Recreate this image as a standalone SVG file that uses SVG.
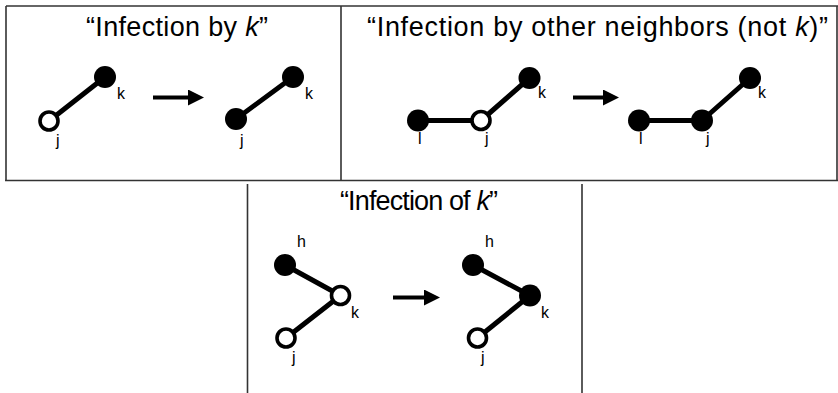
<svg xmlns="http://www.w3.org/2000/svg" width="838" height="393" viewBox="0 0 838 393">
<style>
.frame{stroke:#333;stroke-width:1.6;fill:none}
.edge{stroke:#000;stroke-width:5;stroke-linecap:round}
.on{fill:#000}
.off{fill:#fff;stroke:#000;stroke-width:3.6}
.lbl{font-family:"Liberation Sans",Arial,sans-serif;font-size:16px;fill:#000}
.title{font-family:"Liberation Sans",Arial,sans-serif;font-size:27px;fill:#000}
.arrow{stroke:#000;stroke-width:4}
</style>
<defs>
<marker id="ah" markerWidth="4" markerHeight="4" refX="0" refY="2" orient="auto" markerUnits="strokeWidth" viewBox="0 0 4 4"><path d="M0,0 L4,2 L0,4 Z" fill="#000"/></marker>
</defs>
<rect width="838" height="393" fill="#fff"/>
<g id="frames">
<line class="frame" x1="6" y1="6" x2="838" y2="6"/>
<line class="frame" x1="6" y1="6" x2="6" y2="180.5"/>
<line class="frame" x1="341" y1="6" x2="341" y2="180.5"/>
<line class="frame" x1="837" y1="6" x2="837" y2="180.5"/>
<line class="frame" x1="5" y1="180.5" x2="838" y2="180.5"/>
<line class="frame" x1="247.5" y1="184" x2="247.5" y2="393"/>
<line class="frame" x1="582" y1="184" x2="582" y2="393"/>
</g>
<g id="titles">
<text class="title" x="86" y="36" textLength="182" lengthAdjust="spacing">“Infection by <tspan font-style="italic">k</tspan>”</text>
<text class="title" x="367" y="36" textLength="461" lengthAdjust="spacing">“Infection by other neighbors (not <tspan font-style="italic">k</tspan>)”</text>
<text class="title" x="340" y="210" textLength="158" lengthAdjust="spacing">“Infection of <tspan font-style="italic">k</tspan>”</text>
</g>
<g id="connectors">
<line class="edge" x1="49" y1="121" x2="105" y2="77"/>
<line class="edge" x1="236" y1="119" x2="293" y2="77"/>
<line class="edge" x1="418" y1="120.5" x2="481" y2="120.5"/>
<line class="edge" x1="481" y1="120.5" x2="529.5" y2="78"/>
<line class="edge" x1="639" y1="120.5" x2="702" y2="120.5"/>
<line class="edge" x1="702" y1="120.5" x2="750" y2="78"/>
<line class="edge" x1="285" y1="265" x2="340.5" y2="295.5"/>
<line class="edge" x1="286" y1="338" x2="340.5" y2="295.5"/>
<line class="edge" x1="473" y1="265" x2="530" y2="295.5"/>
<line class="edge" x1="477.5" y1="338" x2="530" y2="295.5"/>
<line class="arrow" x1="153" y1="97.5" x2="188" y2="97.5" marker-end="url(#ah)"/>
<line class="arrow" x1="573" y1="97.5" x2="603" y2="97.5" marker-end="url(#ah)"/>
<line class="arrow" x1="393" y1="297.5" x2="424" y2="297.5" marker-end="url(#ah)"/>
</g>
<g id="p1-left-j"><circle class="off" cx="49" cy="121" r="9"/><text class="lbl" x="56" y="146">j</text></g>
<g id="p1-left-k"><circle class="on" cx="105" cy="77" r="11"/><text class="lbl" x="117" y="99">k</text></g>
<g id="p1-right-j"><circle class="on" cx="236" cy="119" r="11"/><text class="lbl" x="240" y="146">j</text></g>
<g id="p1-right-k"><circle class="on" cx="293" cy="77" r="11"/><text class="lbl" x="305" y="99">k</text></g>
<g id="p2-left-l"><circle class="on" cx="418" cy="120.5" r="11"/><text class="lbl" x="418" y="144">l</text></g>
<g id="p2-left-j"><circle class="off" cx="481" cy="120.5" r="9"/><text class="lbl" x="485" y="144">j</text></g>
<g id="p2-left-k"><circle class="on" cx="529.5" cy="78" r="11"/><text class="lbl" x="538" y="98">k</text></g>
<g id="p2-right-l"><circle class="on" cx="639" cy="120.5" r="11"/><text class="lbl" x="639" y="144">l</text></g>
<g id="p2-right-j"><circle class="on" cx="702" cy="120.5" r="11"/><text class="lbl" x="706" y="144">j</text></g>
<g id="p2-right-k"><circle class="on" cx="750" cy="78" r="11"/><text class="lbl" x="758" y="98">k</text></g>
<g id="p3-left-h"><circle class="on" cx="285" cy="265" r="11"/><text class="lbl" x="297" y="247">h</text></g>
<g id="p3-left-k"><circle class="off" cx="340.5" cy="295.5" r="9"/><text class="lbl" x="351" y="318">k</text></g>
<g id="p3-left-j"><circle class="off" cx="286" cy="338" r="9"/><text class="lbl" x="292" y="363">j</text></g>
<g id="p3-right-h"><circle class="on" cx="473" cy="265" r="11"/><text class="lbl" x="485" y="247">h</text></g>
<g id="p3-right-k"><circle class="on" cx="530" cy="295.5" r="11"/><text class="lbl" x="541" y="318">k</text></g>
<g id="p3-right-j"><circle class="off" cx="477.5" cy="338" r="9"/><text class="lbl" x="481" y="363">j</text></g>
</svg>
